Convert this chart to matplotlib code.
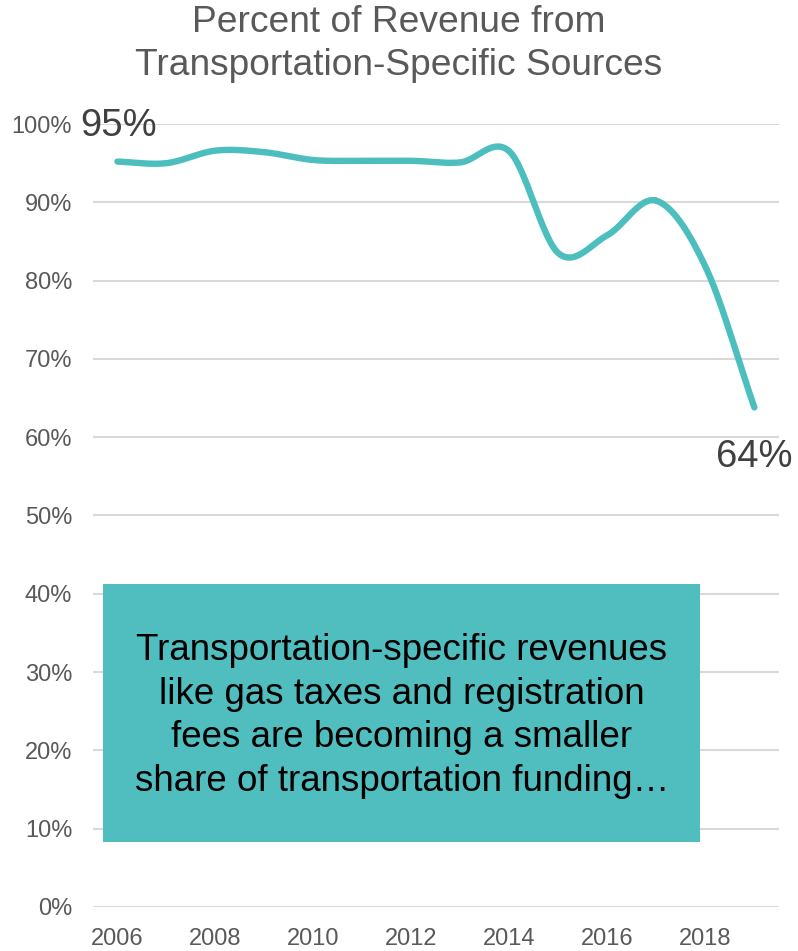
import numpy as np
import matplotlib.pyplot as plt
from matplotlib.patches import Rectangle

years = [2006, 2007, 2008, 2009, 2010, 2011, 2012, 2013, 2014, 2015, 2016, 2017, 2018, 2019]
share = [95.2, 95.0, 96.6, 96.4, 95.4, 95.3, 95.3, 95.1, 96.5, 83.5, 85.8, 90.2, 81.8, 63.8]
y_ticks = [0, 10, 20, 30, 40, 50, 60, 70, 80, 90, 100]
x_ticks = [2006, 2008, 2010, 2012, 2014, 2016, 2018]

title = "Percent of Revenue from\nTransportation-Specific Sources"
note = ("Transportation-specific revenues\nlike gas taxes and registration\n"
        "fees are becoming a smaller\nshare of transportation funding\u2026")

teal = "#4DBEBE"
grey = "#595959"
plt.rcParams['font.family'] = ['Liberation Sans', 'DejaVu Sans']


def smooth(xs, ys, steps=30):
    # catmull-rom through every point, like a spreadsheet "smoothed line"
    xs = np.asarray(xs, float)
    ys = np.asarray(ys, float)
    px = np.concatenate([[2 * xs[0] - xs[1]], xs, [2 * xs[-1] - xs[-2]]])
    py = np.concatenate([[2 * ys[0] - ys[1]], ys, [2 * ys[-1] - ys[-2]]])
    out_x, out_y = [], []
    t = np.linspace(0, 1, steps)
    for i in range(1, len(px) - 2):
        for p, out in ((px, out_x), (py, out_y)):
            p0, p1, p2, p3 = p[i - 1], p[i], p[i + 1], p[i + 2]
            out.extend(0.5 * ((2 * p1) + (-p0 + p2) * t
                              + (2 * p0 - 5 * p1 + 4 * p2 - p3) * t ** 2
                              + (-p0 + 3 * p1 - 3 * p2 + p3) * t ** 3))
    return np.array(out_x), np.array(out_y)


fig = plt.figure(figsize=(7.98, 9.51), dpi=100)
ax = fig.add_axes([0.1165, 0.0463, 0.8595, 0.8233])

for v in y_ticks:
    ax.axhline(v, color="#D9D9D9", lw=1.5, zorder=1)

sx, sy = smooth(years, share)
ax.plot(sx, sy, color=teal, lw=4.6, solid_capstyle="round", zorder=3)

ax.set_xlim(2005.5, 2019.5)
ax.set_ylim(0, 100)
ax.set_yticks(y_ticks)
ax.set_yticklabels([f"{v}%" for v in y_ticks])
ax.set_xticks(x_ticks)
ax.set_xticklabels([str(v) for v in x_ticks])
ax.tick_params(length=0, labelsize=17, labelcolor=grey)
ax.tick_params(axis="y", pad=15)
ax.tick_params(axis="x", pad=15)
for s in ax.spines.values():
    s.set_visible(False)

# end-point labels
ax.text(years[0] - 0.75, share[0] + 2.3, f"{round(share[0])}%", fontsize=27.5,
        color="#404040", va="bottom", ha="left", clip_on=False)
ax.text(years[-1] + 0.78, share[-1] - 4.0, f"{round(share[-1])}%", fontsize=27.5,
        color="#404040", va="top", ha="right", clip_on=False)

fig.text(0.5, 1 - 44 / 951, title, ha="center", va="center", fontsize=26.7,
         color=grey, linespacing=1.3)

fig.patches.append(Rectangle((103 / 798, 1 - 842 / 951), 597 / 798, 258 / 951,
                             transform=fig.transFigure, facecolor="#50BDBE",
                             edgecolor="none", zorder=5))
fig.text(402 / 798, 1 - 716 / 951, note, ha="center", va="center",
         fontsize=26.5, color="black", linespacing=1.33, zorder=6)

fig.savefig("out.png", dpi=100)
